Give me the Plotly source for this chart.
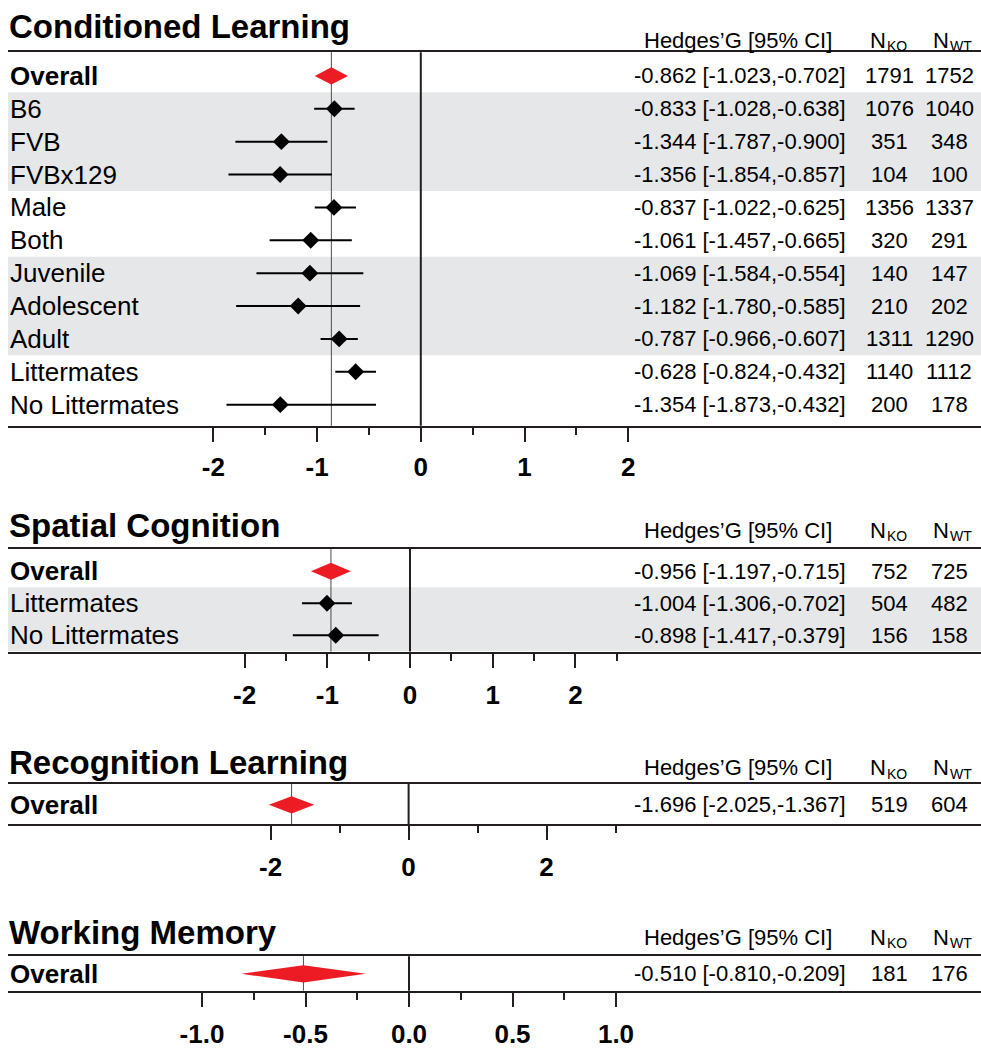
import plotly.graph_objects as go

# ---------------- data ----------------
cl_labels = ["Overall", "B6", "FVB", "FVBx129", "Male", "Both", "Juvenile",
             "Adolescent", "Adult", "Littermates", "No Littermates"]
cl_g = [-0.862, -0.833, -1.344, -1.356, -0.837, -1.061, -1.069, -1.182, -0.787, -0.628, -1.354]
cl_lo = [-1.023, -1.028, -1.787, -1.854, -1.022, -1.457, -1.584, -1.780, -0.966, -0.824, -1.873]
cl_hi = [-0.702, -0.638, -0.900, -0.857, -0.625, -0.665, -0.554, -0.585, -0.607, -0.432, -0.432]
cl_nko = [1791, 1076, 351, 104, 1356, 320, 140, 210, 1311, 1140, 200]
cl_nwt = [1752, 1040, 348, 100, 1337, 291, 147, 202, 1290, 1112, 178]

sc_labels = ["Overall", "Littermates", "No Littermates"]
sc_g = [-0.956, -1.004, -0.898]
sc_lo = [-1.197, -1.306, -1.417]
sc_hi = [-0.715, -0.702, -0.379]
sc_nko = [752, 504, 156]
sc_nwt = [725, 482, 158]

rl_labels = ["Overall"]
rl_g = [-1.696]
rl_lo = [-2.025]
rl_hi = [-1.367]
rl_nko = [519]
rl_nwt = [604]

wm_labels = ["Overall"]
wm_g = [-0.510]
wm_lo = [-0.810]
wm_hi = [-0.209]
wm_nko = [181]
wm_nwt = [176]

cl_ticks = [-2, -1, 0, 1, 2]
cl_ticktext = ["-2", "-1", "0", "1", "2"]
cl_minor = [-1.5, -0.5, 0.5, 1.5]
sc_ticks = [-2, -1, 0, 1, 2]
sc_ticktext = ["-2", "-1", "0", "1", "2"]
sc_minor = [-1.5, -0.5, 0.5, 1.5, 2.5]
rl_ticks = [-2, 0, 2]
rl_ticktext = ["-2", "0", "2"]
rl_minor = [-1, 1, 3]
wm_ticks = [-1.0, -0.5, 0.0, 0.5, 1.0]
wm_ticktext = ["-1.0", "-0.5", "0.0", "0.5", "1.0"]
wm_minor = [-0.75, -0.25, 0.25, 0.75]

# ---------------- layout constants (pixels) ----------------
W, H = 981, 1049
LEFT = 8
FONT = "Liberation Sans, Arial, Helvetica, sans-serif"
INK = "#231F20"
RED = "#ED1C24"
BAND = "#E6E7E8"

panels = [
    dict(title="Conditioned Learning", labels=cl_labels, g=cl_g, lo=cl_lo, hi=cl_hi,
         nko=cl_nko, nwt=cl_nwt, ticks=cl_ticks, ticktext=cl_ticktext, minor=cl_minor,
         bands=[(1, 3), (6, 8)],
         top=53, bottom=432, row0=77, pitch=33.35, zero=420.8, unit=103.75,
         title_y=27, head_y=41, standoff=3),
    dict(title="Spatial Cognition", labels=sc_labels, g=sc_g, lo=sc_lo, hi=sc_hi,
         nko=sc_nko, nwt=sc_nwt, ticks=sc_ticks, ticktext=sc_ticktext, minor=sc_minor,
         bands=[(1, 2)],
         top=557, bottom=661, row0=579.5, pitch=32.5, zero=410, unit=82.7,
         title_y=533, head_y=538, standoff=5),
    dict(title="Recognition Learning", labels=rl_labels, g=rl_g, lo=rl_lo, hi=rl_hi,
         nko=rl_nko, nwt=rl_nwt, ticks=rl_ticks, ticktext=rl_ticktext, minor=rl_minor,
         bands=[],
         top=795, bottom=836, row0=816.5, pitch=33, zero=408.6, unit=69,
         title_y=774, head_y=779, standoff=5),
    dict(title="Working Memory", labels=wm_labels, g=wm_g, lo=wm_lo, hi=wm_hi,
         nko=wm_nko, nwt=wm_nwt, ticks=wm_ticks, ticktext=wm_ticktext, minor=wm_minor,
         bands=[],
         top=970, bottom=1005, row0=988, pitch=33, zero=409, unit=207,
         title_y=946, head_y=951, standoff=5),
]

COL_CI = 740
COL_NKO = 889
COL_NWT = 949
DIAMOND_HALF_PX = 8.7
TEXT_SIZE = 22
SUB_SIZE = 14


def px_x(p):
    return p / W


def px_y(p):
    return 1 - p / H


def note(text, x, y, yref="paper", xanchor="center", size=TEXT_SIZE, bold=False):
    return dict(text=text, xref="paper", yref=yref, x=x, y=y,
                xanchor=xanchor, yanchor="middle", showarrow=False,
                font=dict(family=FONT, size=size, color="#000000",
                          weight="bold" if bold else "normal"))


fig = go.Figure()
shapes = []
annotations = []
layout_axes = {}

for k, p in enumerate(panels, start=1):
    xa = "x" if k == 1 else f"x{k}"
    ya = "y" if k == 1 else f"y{k}"
    xname = "xaxis" if k == 1 else f"xaxis{k}"
    yname = "yaxis" if k == 1 else f"yaxis{k}"

    xr = [(LEFT - p["zero"]) / p["unit"], (W - p["zero"]) / p["unit"]]
    yr = [(p["bottom"] - p["row0"]) / p["pitch"], (p["top"] - p["row0"]) / p["pitch"]]
    dom_y = [px_y(p["bottom"]), px_y(p["top"])]

    layout_axes[xname] = dict(
        domain=[px_x(LEFT), 1], range=xr, anchor=ya,
        showline=True, mirror=True, linecolor=INK, linewidth=2,
        showgrid=False, zeroline=False,
        ticks="outside", ticklen=14, tickwidth=2, tickcolor=INK,
        tickmode="array", tickvals=p["ticks"], ticktext=p["ticktext"],
        tickfont=dict(family=FONT, size=26, color="#000000", weight="bold"),
        ticklabelstandoff=p["standoff"],
        minor=dict(tickmode="array", tickvals=p["minor"], ticks="outside",
                   ticklen=7, tickwidth=2, tickcolor=INK, showgrid=False),
        fixedrange=True,
    )
    layout_axes[yname] = dict(
        domain=dom_y, range=yr, anchor=xa, visible=False, fixedrange=True,
    )

    # shaded row groups
    for a, b in p["bands"]:
        shapes.append(dict(type="rect", xref="paper", yref=ya,
                           x0=px_x(LEFT), x1=1, y0=a - 0.5, y1=b + 0.5,
                           fillcolor=BAND, line=dict(width=0), layer="below"))
    # line of no effect
    shapes.append(dict(type="line", xref=xa, yref=f"{ya} domain",
                       x0=0, x1=0, y0=0, y1=1,
                       line=dict(color=INK, width=2), layer="below"))
    # pooled estimate reference line
    shapes.append(dict(type="line", xref=xa, yref=f"{ya} domain",
                       x0=p["g"][0], x1=p["g"][0], y0=0, y1=1,
                       line=dict(color="#4D4D4D", width=1), layer="below"))

    # pooled estimate diamond (overall row)
    h = DIAMOND_HALF_PX / p["pitch"]
    g0, lo0, hi0 = p["g"][0], p["lo"][0], p["hi"][0]
    fig.add_trace(go.Scatter(
        x=[lo0, g0, hi0, g0, lo0], y=[0, -h, 0, h, 0],
        xaxis=xa, yaxis=ya, mode="lines", fill="toself",
        fillcolor=RED, line=dict(width=0, color=RED),
        hoverinfo="skip", showlegend=False))

    # subgroup estimates with 95% CI
    if len(p["labels"]) > 1:
        gs = p["g"][1:]
        rows = list(range(1, len(p["labels"])))
        fig.add_trace(go.Scatter(
            x=gs, y=rows, xaxis=xa, yaxis=ya, mode="markers",
            marker=dict(symbol="diamond", size=13, color="#000000",
                        line=dict(width=0)),
            error_x=dict(type="data", symmetric=False,
                         array=[hi - g for hi, g in zip(p["hi"][1:], gs)],
                         arrayminus=[g - lo for lo, g in zip(p["lo"][1:], gs)],
                         width=0, thickness=2, color="#000000"),
            showlegend=False, hoverinfo="skip"))

    # panel title
    annotations.append(note(p["title"], px_x(LEFT - 1), px_y(p["title_y"]),
                            xanchor="left", size=33, bold=True))

    # column headers
    hy = p["head_y"]
    annotations.append(note("Hedges\u2019G [95% CI]", px_x(COL_CI - 2), px_y(hy)))
    for main_right, sub in [(886, "KO"), (949, "WT")]:
        annotations.append(note("N", px_x(main_right + 2), px_y(hy), xanchor="right"))
        annotations.append(note(sub, px_x(main_right - 1), px_y(hy + 6),
                                xanchor="left", size=SUB_SIZE))

    # row labels and statistics
    for i, lab in enumerate(p["labels"]):
        annotations.append(note(lab, px_x(LEFT), i, yref=ya, xanchor="left",
                                size=26, bold=(i == 0)))
        ci = f"{p['g'][i]:.3f} [{p['lo'][i]:.3f},{p['hi'][i]:.3f}]"
        annotations.append(note(ci, px_x(COL_CI), i, yref=ya))
        annotations.append(note(str(p["nko"][i]), px_x(COL_NKO), i, yref=ya))
        annotations.append(note(str(p["nwt"][i]), px_x(COL_NWT), i, yref=ya))

fig.update_layout(
    width=W, height=H,
    margin=dict(l=0, r=0, t=0, b=0, pad=0),
    paper_bgcolor="white", plot_bgcolor="white",
    showlegend=False,
    shapes=shapes, annotations=annotations,
    font=dict(family=FONT, color="#000000"),
    **layout_axes,
)

fig.write_html("out.html", config={"displayModeBar": False})
